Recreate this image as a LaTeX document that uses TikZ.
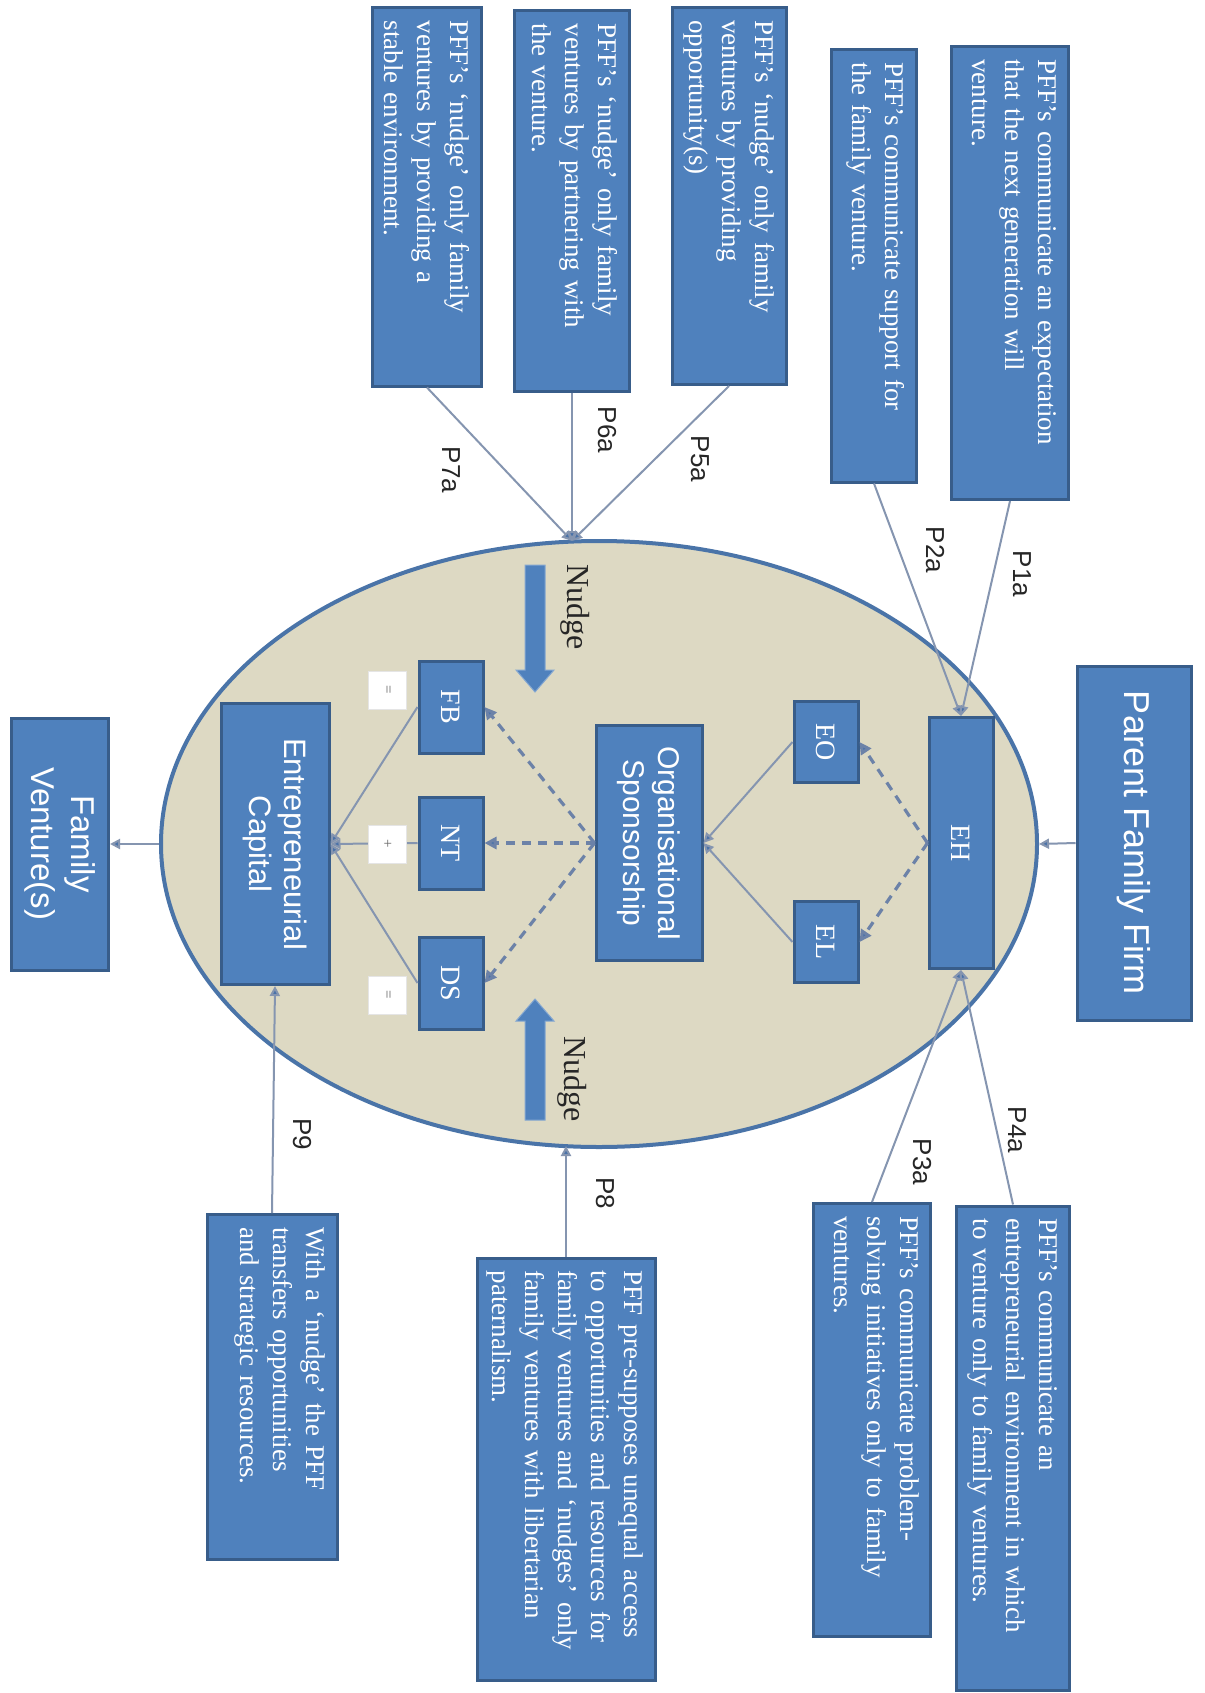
\documentclass[tikz,border=0pt]{standalone}
\usepackage{fontspec}
\setmainfont{Liberation Serif}
\setsansfont{Liberation Sans}
\usetikzlibrary{arrows.meta,shapes.geometric}

\definecolor{boxblue}{HTML}{4F81BD}
\definecolor{boxedge}{HTML}{385D8A}
\definecolor{ovalfill}{HTML}{DDD9C3}
\definecolor{ovaledge}{HTML}{4A74A8}
\definecolor{linkgray}{HTML}{8595B0}
\definecolor{dashblue}{HTML}{6C82A8}
\definecolor{tipblue}{HTML}{4A72A8}

\begin{document}
\begin{tikzpicture}[x=1pt,y=-1pt,
  blk/.style={draw=boxedge, line width=3pt, fill=boxblue, inner sep=0pt,
    rotate=-90, text=white, align=center},
  longtext/.style={rotate=-90, anchor=north west, text=white, align=left,
    inner xsep=14pt, inner ysep=13pt, font=\fontsize{27}{33}\selectfont},
  keyfont/.style={font=\sffamily\fontsize{30}{35}\selectfont},
  tagfont/.style={font=\fontsize{28}{32}\selectfont},
  plabel/.style={rotate=-90, font=\sffamily\fontsize{26}{30}\selectfont, text=black!85},
  sign/.style={fill=white, draw=white!90!black, line width=0.6pt, rotate=-90,
    minimum width=38pt, minimum height=38pt, inner sep=0pt,
    font=\fontsize{15}{15}\selectfont, text=black!60},
  link/.style={draw=linkgray, line width=2pt, -{Triangle[length=10pt,width=10pt,fill=tipblue]}},
  dlink/.style={draw=dashblue, line width=3.2pt, dash pattern=on 9pt off 7pt,
    -{Triangle[length=12pt,width=12pt,fill=tipblue]}},
  nudgearrow/.style={fill=boxblue, draw=boxblue!70!white, line width=1pt},
  nudgetext/.style={rotate=-90, font=\fontsize{32}{36}\selectfont, text=black!85}
]
\useasboundingbox (0,0) rectangle (1204,1693);
\fill[white] (0,0) rectangle (1204,1693);

% the family-firm oval
\node[ellipse, draw=ovaledge, line width=4pt, fill=ovalfill,
  minimum width=876pt, minimum height=606pt, inner sep=0pt] (oval) at (599,844) {};
\coordinate (otop) at (572,541);
\coordinate (obot) at (566,1146);

% main chain of boxes
\node[blk, keyfont, font=\sffamily\fontsize{36}{40}\selectfont,
  minimum width=354pt, minimum height=114pt] (pff) at (1134,843) {Parent Family Firm};
\node[blk, tagfont, minimum width=251pt, minimum height=64pt] (eh) at (961,843) {EH};
\node[blk, tagfont, minimum width=81pt, minimum height=64pt] (eo) at (826,742) {EO};
\node[blk, tagfont, minimum width=81pt, minimum height=64pt] (el) at (826,942) {EL};
\node[blk, keyfont, minimum width=235pt, minimum height=106pt] (os) at (649,843)
  {Organisational\\Sponsorship};
\node[blk, tagfont, minimum width=92pt, minimum height=64pt] (fb) at (451,707) {FB};
\node[blk, tagfont, minimum width=92pt, minimum height=64pt] (nt) at (451,843) {NT};
\node[blk, tagfont, minimum width=92pt, minimum height=64pt] (ds) at (451,983) {DS};
\node[blk, keyfont, font=\sffamily\fontsize{31}{35}\selectfont,
  minimum width=281pt, minimum height=108pt] (ec) at (275,844)
  {Entrepreneurial\\Capital};
\node[blk, font=\sffamily\fontsize{33}{40}\selectfont,
  minimum width=252pt, minimum height=97pt] (fv) at (60,844) {Family\\Venture(s)};

% proposition boxes
\node[blk, minimum width=453pt, minimum height=117pt] (p1) at (1010,273) {};
\node[longtext, text width=425pt] (p1t) at (p1.north west)
  {PFF's communicate an expectation\\that the next generation will\\venture.};
\node[blk, minimum width=432pt, minimum height=85pt] (p2) at (874,266) {};
\node[longtext, text width=404pt] (p2t) at (p2.north west)
  {PFF's communicate support for\\the family venture.};
\node[blk, minimum width=377pt, minimum height=114pt] (p5) at (729,196) {};
\node[longtext, text width=349pt] (p5t) at (p5.north west)
  {PFF's `nudge' only family\\ventures by providing\\opportunity(s)};
\node[blk, minimum width=380pt, minimum height=115pt] (p6) at (572,201) {};
\node[longtext, text width=352pt] (p6t) at (p6.north west)
  {PFF's `nudge' only family\\ventures by partnering with\\the venture.};
\node[blk, minimum width=378pt, minimum height=109pt] (p7) at (427,197) {};
\node[longtext, text width=350pt] (p7t) at (p7.north west)
  {PFF's `nudge' only family\\ventures by providing a\\stable environment.};
\node[blk, minimum width=484pt, minimum height=113pt] (p4) at (1013,1448) {};
\node[longtext, text width=456pt] (p4t) at (p4.north west)
  {PFF's communicate an\\entrepreneurial environment in which\\to venture only to family ventures.};
\node[blk, minimum width=433pt, minimum height=117pt] (p3) at (872,1420) {};
\node[longtext, text width=405pt] (p3t) at (p3.north west)
  {PFF's communicate problem-\\solving initiatives only to family\\ventures.};
\node[blk, minimum width=422pt, minimum height=178pt] (p8) at (566,1469) {};
\node[longtext, text width=394pt] (p8t) at (p8.north west)
  {PFF pre-supposes unequal access\\to opportunities and resources for\\family ventures and `nudges' only\\family ventures with libertarian\\paternalism.};
\node[blk, minimum width=345pt, minimum height=130pt] (p9) at (272,1387) {};
\node[longtext, text width=317pt] (p9t) at (p9.north west)
  {With a `nudge' the PFF\\transfers opportunities\\and strategic resources.};

% connectors from the proposition boxes
\draw[link] (p1.east) -- (eh.west);
\draw[link] (p2.east) -- (eh.west);
\draw[link] (p4.west) -- (eh.east);
\draw[link] (p3.west) -- (eh.east);
\draw[link] (p5.east) -- (otop);
\draw[link] (p6.east) -- (otop);
\draw[link] (p7.east) -- (otop);
\draw[link] (p8.west) -- (obot);
\draw[link] (p9.west) -- (ec.east);
\draw[link] (pff.south) -- (oval.east);
\draw[link] (oval.west) -- (fv.north);

% links inside the oval
\draw[dlink] (eh.south) -- (eo.north);
\draw[dlink] (eh.south) -- (el.north);
\draw[link] (eo.south) -- (os.north);
\draw[link] (el.south) -- (os.north);
\draw[dlink] (os.south) -- (fb.north);
\draw[dlink] (os.south) -- (nt.north);
\draw[dlink] (os.south) -- (ds.north);
\draw[link] (fb.south) -- (ec.north);
\draw[link] (nt.south) -- (ec.north);
\draw[link] (ds.south) -- (ec.north);

% small sign boxes
\node[sign] (sfb) at (387,690) {=};
\node[sign] (snt) at (387,844) {+};
\node[sign] (sds) at (387,995) {=};

% nudge arrows
\filldraw[nudgearrow] (525,565) -- (545,565) -- (545,670) -- (554,670) -- (535,692)
  -- (516,670) -- (525,670) -- cycle;
\filldraw[nudgearrow] (525,1120) -- (545,1120) -- (545,1021) -- (554,1021) -- (535,999)
  -- (516,1021) -- (525,1021) -- cycle;
\node[nudgetext] (nudgetop) at (575,607) {Nudge};
\node[nudgetext] (nudgebot) at (572,1079) {Nudge};

% proposition labels
\node[plabel] (l1a) at (1022,574) {P1a};
\node[plabel] (l2a) at (935,550) {P2a};
\node[plabel] (l5a) at (700,459) {P5a};
\node[plabel] (l6a) at (607,430) {P6a};
\node[plabel] (l7a) at (451,470) {P7a};
\node[plabel] (l4a) at (1017,1130) {P4a};
\node[plabel] (l3a) at (922,1162) {P3a};
\node[plabel] (l8) at (605,1193) {P8};
\node[plabel] (l9) at (302,1134) {P9};
\end{tikzpicture}
\end{document}
